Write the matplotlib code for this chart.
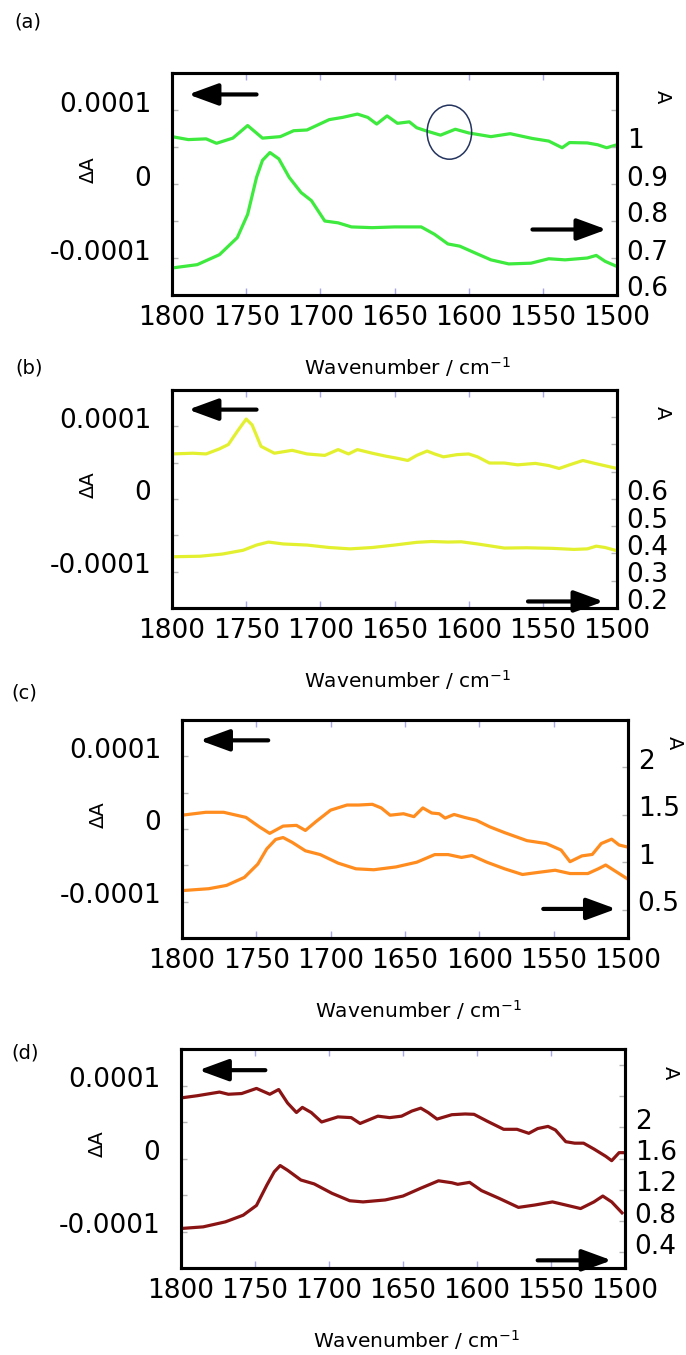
import matplotlib
matplotlib.use("Agg")
import matplotlib.pyplot as plt
from matplotlib.patches import Ellipse
from matplotlib.transforms import ScaledTranslation

# ---- data (wavenumber / cm-1, dA in units of 1e-4, A) ----
wn_a_dA = [1800, 1789, 1777, 1770, 1759, 1749, 1739, 1727, 1718, 1709, 1694, 1685, 1675,
           1668, 1662, 1655, 1648, 1640, 1635, 1629, 1619, 1609, 1600, 1585, 1572, 1557,
           1546, 1537, 1532, 1520, 1513, 1507, 1500]
dA_a = [0.64, 0.60, 0.61, 0.55, 0.62, 0.79, 0.62, 0.64, 0.72, 0.73, 0.87, 0.90, 0.945,
        0.90, 0.81, 0.92, 0.82, 0.84, 0.76, 0.72, 0.66, 0.74, 0.69, 0.64, 0.68, 0.615,
        0.58, 0.49, 0.56, 0.555, 0.53, 0.49, 0.53]
wn_a_A = [1800, 1783, 1768, 1756, 1749, 1743, 1739, 1734, 1728, 1721, 1713, 1706, 1697,
          1688, 1679, 1665, 1650, 1632, 1623, 1614, 1606, 1597, 1585, 1573, 1558, 1546,
          1535, 1520, 1514, 1508, 1500]
A_a = [0.673, 0.682, 0.709, 0.755, 0.818, 0.918, 0.964, 0.985, 0.968, 0.918, 0.877, 0.855,
       0.800, 0.795, 0.784, 0.782, 0.784, 0.784, 0.764, 0.738, 0.732, 0.716, 0.695, 0.684,
       0.686, 0.698, 0.695, 0.700, 0.707, 0.691, 0.677]

wn_b_dA = [1800, 1786, 1777, 1768, 1762, 1756, 1750, 1746, 1740, 1731, 1719, 1709, 1697,
           1688, 1681, 1675, 1665, 1656, 1648, 1641, 1635, 1628, 1623, 1617, 1608, 1600,
           1594, 1586, 1576, 1567, 1555, 1546, 1539, 1532, 1523, 1515, 1500]
dA_b = [0.62, 0.63, 0.62, 0.69, 0.75, 0.93, 1.10, 1.02, 0.725, 0.63, 0.67, 0.62, 0.60,
        0.68, 0.62, 0.68, 0.63, 0.59, 0.56, 0.53, 0.60, 0.66, 0.62, 0.58, 0.61, 0.62,
        0.58, 0.495, 0.495, 0.47, 0.49, 0.46, 0.42, 0.47, 0.53, 0.49, 0.42]
wn_b_A = [1800, 1781, 1766, 1752, 1743, 1735, 1725, 1709, 1694, 1680, 1665, 1650, 1635,
          1625, 1614, 1605, 1594, 1576, 1561, 1544, 1529, 1520, 1514, 1508, 1500]
A_b = [0.388, 0.390, 0.398, 0.412, 0.431, 0.442, 0.435, 0.431, 0.422, 0.417, 0.422, 0.431,
       0.441, 0.444, 0.442, 0.443, 0.435, 0.420, 0.421, 0.419, 0.415, 0.417, 0.427, 0.422,
       0.410]

wn_c_dA = [1800, 1784, 1772, 1757, 1748, 1741, 1732, 1723, 1717, 1710, 1700, 1689, 1681,
           1672, 1666, 1660, 1651, 1644, 1638, 1632, 1627, 1623, 1617, 1610, 1602, 1593,
           1583, 1568, 1555, 1545, 1539, 1531, 1524, 1518, 1511, 1506, 1500]
dA_c = [0.19, 0.23, 0.23, 0.16, 0.03, -0.06, 0.04, 0.05, -0.02, 0.10, 0.26, 0.33, 0.33,
        0.34, 0.29, 0.19, 0.21, 0.17, 0.29, 0.22, 0.21, 0.15, 0.20, 0.16, 0.12, 0.03,
        -0.05, -0.16, -0.20, -0.29, -0.45, -0.37, -0.35, -0.20, -0.14, -0.22, -0.25]
wn_c_A = [1800, 1782, 1770, 1758, 1749, 1743, 1737, 1732, 1726, 1717, 1707, 1695, 1683,
          1671, 1656, 1642, 1630, 1621, 1612, 1605, 1595, 1583, 1571, 1559, 1549, 1539,
          1527, 1520, 1515, 1509, 1500]
A_c = [0.70, 0.72, 0.755, 0.84, 0.98, 1.14, 1.24, 1.26, 1.21, 1.12, 1.08, 0.99, 0.93,
       0.92, 0.95, 1.00, 1.08, 1.08, 1.05, 1.07, 1.00, 0.93, 0.87, 0.895, 0.915, 0.88,
       0.88, 0.93, 0.97, 0.91, 0.82]

wn_d_dA = [1800, 1789, 1780, 1774, 1768, 1759, 1749, 1740, 1734, 1728, 1722, 1718, 1712,
           1705, 1694, 1685, 1679, 1667, 1659, 1651, 1644, 1638, 1633, 1627, 1617, 1608,
           1602, 1593, 1582, 1573, 1565, 1559, 1552, 1547, 1540, 1534, 1528, 1521, 1513,
           1509, 1504, 1500]
dA_d = [0.83, 0.86, 0.89, 0.91, 0.88, 0.89, 0.96, 0.88, 0.945, 0.76, 0.63, 0.70, 0.63,
        0.50, 0.57, 0.56, 0.48, 0.58, 0.56, 0.58, 0.65, 0.69, 0.63, 0.54, 0.60, 0.61,
        0.605, 0.51, 0.40, 0.40, 0.345, 0.41, 0.44, 0.39, 0.23, 0.21, 0.21, 0.13, 0.03,
        -0.03, 0.08, 0.08]
wn_d_A = [1800, 1785, 1770, 1758, 1749, 1742, 1737, 1733, 1728, 1719, 1710, 1698, 1686,
          1677, 1662, 1650, 1638, 1626, 1617, 1613, 1605, 1597, 1585, 1572, 1561, 1549,
          1540, 1530, 1521, 1515, 1509, 1502]
A_d = [0.705, 0.726, 0.79, 0.875, 1.00, 1.26, 1.43, 1.51, 1.45, 1.325, 1.275, 1.155,
       1.06, 1.045, 1.07, 1.12, 1.22, 1.315, 1.29, 1.27, 1.295, 1.19, 1.09, 0.975, 1.005,
       1.045, 1.005, 0.96, 1.045, 1.12, 1.045, 0.905]

x_ticks = [1800, 1750, 1700, 1650, 1600, 1550, 1500]
dA_ticks = [-1e-4, -0.5e-4, 0, 0.5e-4, 1e-4]
dA_ticklabels = ["-0.0001", "", "0", "", "0.0001"]

panels = [
    dict(tag="(a)", color="#3dea3d", wn_dA=wn_a_dA, dA=dA_a, wn_A=wn_a_A, A=A_a,
         A_lim=(0.6, 1.2), A_ticks=[0.6, 0.7, 0.8, 0.9, 1.0, 1.1],
         A_labels=["0.6", "0.7", "0.8", "0.9", "1", ""],
         pos=(172, 617, 73, 295), tagxy=(28, 22),
         left_arrow=(1743, 1789, 1.21), right_arrow=(1557, 1507, -0.615)),
    dict(tag="(b)", color="#e3f030", wn_dA=wn_b_dA, dA=dA_b, wn_A=wn_b_A, A=A_b,
         A_lim=(0.2, 1.0), A_ticks=[0.2, 0.3, 0.4, 0.5, 0.6, 0.7, 0.8, 0.9],
         A_labels=["0.2", "0.3", "0.4", "0.5", "0.6", "", "", ""],
         pos=(172, 617, 390, 608), tagxy=(29, 368),
         left_arrow=(1743, 1789, 1.23), right_arrow=(1560, 1509, -1.41)),
    dict(tag="(c)", color="#ff8c1e", wn_dA=wn_c_dA, dA=dA_c, wn_A=wn_c_A, A=A_c,
         A_lim=(0.2, 2.5), A_ticks=[0.5, 1.0, 1.5, 2.0],
         A_labels=["0.5", "1", "1.5", "2"],
         pos=(182, 628, 720, 938), tagxy=(24, 693),
         left_arrow=(1742, 1788, 1.22), right_arrow=(1557, 1508, -1.10)),
    dict(tag="(d)", color="#8a1414", wn_dA=wn_d_dA, dA=dA_d, wn_A=wn_d_A, A=A_d,
         A_lim=(0.2, 3.0), A_ticks=[0.4, 0.8, 1.2, 1.6, 2.0, 2.4, 2.8],
         A_labels=["0.4", "0.8", "1.2", "1.6", "2", "", ""],
         pos=(181, 625, 1049, 1268), tagxy=(25, 1053),
         left_arrow=(1743, 1788, 1.21), right_arrow=(1559, 1509, -1.395)),
]

W, H = 686, 1355
fig = plt.figure(figsize=(W / 100, H / 100), dpi=100)
lift = ScaledTranslation(0, 0.085, fig.dpi_scale_trans)
arrow_style = "-|>,head_length=0.9,head_width=0.33"

for p in panels:
    x0, x1, y0, y1 = p["pos"]
    ax = fig.add_axes([x0 / W, 1 - y1 / H, (x1 - x0) / W, (y1 - y0) / H])
    ax2 = ax.twinx()

    ax.plot(p["wn_dA"], [v * 1e-4 for v in p["dA"]], color=p["color"], lw=2.3)
    ax2.plot(p["wn_A"], p["A"], color=p["color"], lw=2.3)

    ax.set_xlim(1800, 1500)
    ax.set_ylim(-1.5e-4, 1.5e-4)
    ax2.set_ylim(*p["A_lim"])

    ax.set_xticks(x_ticks)
    ax.set_xticklabels([str(t) for t in x_ticks], fontsize=19)
    ax.set_yticks(dA_ticks)
    ax.set_yticklabels(dA_ticklabels, fontsize=19)
    ax2.set_yticks(p["A_ticks"])
    ax2.set_yticklabels(p["A_labels"], fontsize=19)

    ax.tick_params(axis="x", direction="in", length=5, width=1, color="#a8a8e8",
                   top=True, pad=7)
    ax.tick_params(axis="y", direction="in", length=4, width=1, color="#b4b4b4",
                   right=False, pad=15)
    ax2.tick_params(axis="y", direction="in", length=4, width=1, color="#b4b4b4",
                    pad=7)
    for lab in ax.get_yticklabels() + ax2.get_yticklabels():
        lab.set_transform(lab.get_transform() + lift)

    for a in (ax, ax2):
        for s in a.spines.values():
            s.set_linewidth(2.2)
            s.set_color("black")

    ax.set_xlabel("Wavenumber / cm$^{-1}$", fontsize=14.5)
    ax.xaxis.label.set_va("center")
    ax.xaxis.set_label_coords(0.53, -(1.5 + 72) / (y1 - y0) + 0.0065)
    ax.text(-84 / (x1 - x0), 0.566, "ΔA", transform=ax.transAxes, rotation=90,
            ha="center", va="center", fontsize=14)
    ax.text(1.103, 0.894, "A", transform=ax.transAxes, rotation=-90,
            ha="center", va="center", fontsize=14)

    la = p["left_arrow"]
    ax.annotate("", xy=(la[1], la[2] * 1e-4), xytext=(la[0], la[2] * 1e-4),
                arrowprops=dict(arrowstyle=arrow_style, lw=3, color="black",
                                mutation_scale=20, shrinkA=0, shrinkB=0))
    ra = p["right_arrow"]
    ax.annotate("", xy=(ra[1], ra[2] * 1e-4), xytext=(ra[0], ra[2] * 1e-4),
                arrowprops=dict(arrowstyle=arrow_style, lw=3, color="black",
                                mutation_scale=20, shrinkA=0, shrinkB=0))

    if p["tag"] == "(a)":
        ax.add_patch(Ellipse((1613, 0.70e-4), 30, 0.73e-4, fill=False,
                             edgecolor="#24345e", lw=1.1, zorder=5))

    fig.text(p["tagxy"][0] / W, 1 - p["tagxy"][1] / H, p["tag"], fontsize=14,
             ha="center", va="center")

fig.savefig("out.png", dpi=100)
